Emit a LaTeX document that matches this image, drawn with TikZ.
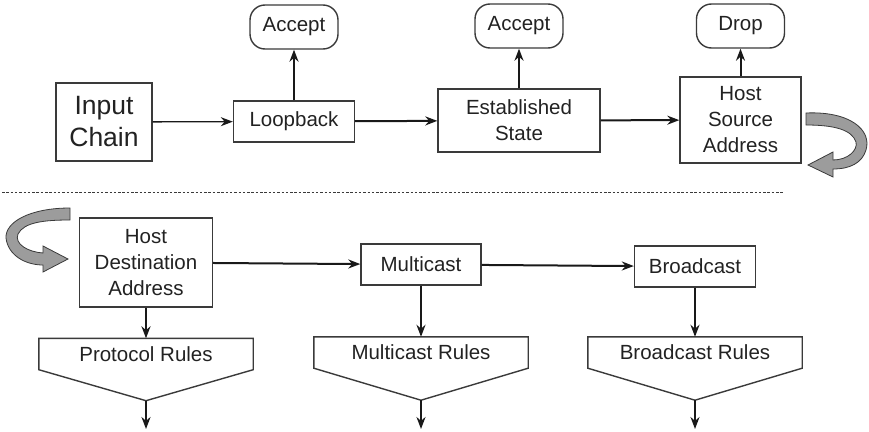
\documentclass[tikz,border=0pt]{standalone}
\usepackage{fontspec}
\setmainfont{Liberation Sans}
\usepackage{tikz}
\usetikzlibrary{arrows.meta}

\definecolor{inkgray}{HTML}{222222}
\definecolor{linegray}{HTML}{3A3A3A}
\definecolor{ribbongray}{HTML}{9C9C9C}

\tikzset{
  box/.style={draw=linegray, line width=1.4pt, fill=white, inner sep=0pt,
    align=center, text=inkgray, font=\fontsize{20.5}{26}\selectfont},
  verdict/.style={box, rounded corners=15pt, minimum width=88pt, minimum height=44pt},
  rules/.style={inner sep=0pt, minimum width=214pt, minimum height=31pt,
    text=inkgray, font=\fontsize{20.5}{26}\selectfont},
  flow/.style={->, line width=2pt, draw=black!90},
  ribbon/.style={fill=ribbongray, draw=linegray, line width=0.8pt},
}

\begin{document}
\begin{tikzpicture}[x=1pt, y=-1pt, >={Stealth[length=12pt,width=9pt]}]
  \useasboundingbox (0,0) rectangle (869,431);

  % Top row.
  \node[box, minimum width=96pt, minimum height=78pt, font=\fontsize{26.5}{32}\selectfont] (input) at (104,122) {Input\\Chain};
  \node[box, minimum width=121pt, minimum height=41pt] (loop) at (294,121.5) {Loopback};
  \node[box, minimum width=162pt, minimum height=63pt] (estab) at (519,120.5) {Established\\State};
  \node[box, minimum width=121pt, minimum height=86pt] (hsrc) at (740.5,120) {Host\\Source\\Address};

  % Verdicts.
  \node[verdict] (acceptA) at (294,27) {Accept};
  \node[verdict] (acceptB) at (519,26) {Accept};
  \node[verdict] (drop) at (740.5,26) {Drop};

  % Top arrows.
  \draw[flow, line width=1.3pt] (input) -- (loop);
  \draw[flow] (loop) -- (estab);
  \draw[flow] (estab) -- (hsrc);
  \draw[flow] (loop) -- (acceptA);
  \draw[flow] (estab) -- (acceptB);
  \draw[flow] (hsrc) -- (drop);

  % Separator.
  \draw[linegray, line width=0.8pt, dash pattern=on 2.5pt off 1.8pt] (2,192) -- (783,192);

  % Bottom row.
  \node[box, minimum width=133pt, minimum height=89pt] (hdst) at (146,262.5) {Host\\Destination\\Address};
  \node[box, minimum width=120pt, minimum height=41pt] (mcast) at (421,264.5) {Multicast};
  \node[box, minimum width=121pt, minimum height=41pt] (bcast) at (695,266.5) {Broadcast};

  \draw[flow] (hdst) -- (mcast);
  \draw[flow] (mcast) -- (bcast);

  % Rule boxes.
  \node[rules] (prot) at (146,354) {Protocol Rules};
  \node[rules] (mrules) at (421,352.5) {Multicast Rules};
  \node[rules] (brules) at (695,352.5) {Broadcast Rules};
  \draw[linegray, line width=1.4pt] (prot.north west) -- (prot.north east) -- (prot.south east)
    -- ([yshift=-31pt]prot.south) coordinate (protTip) -- (prot.south west) -- cycle;
  \draw[linegray, line width=1.4pt] (mrules.north west) -- (mrules.north east) -- (mrules.south east)
    -- ([yshift=-32pt]mrules.south) coordinate (mrulesTip) -- (mrules.south west) -- cycle;
  \draw[linegray, line width=1.4pt] (brules.north west) -- (brules.north east) -- (brules.south east)
    -- ([yshift=-32pt]brules.south) coordinate (brulesTip) -- (brules.south west) -- cycle;

  \draw[flow] (hdst) -- (prot.north);
  \draw[flow] (mcast) -- (mrules.north);
  \draw[flow] (bcast) -- (brules.north);

  % Rule exits.
  \coordinate (protOut) at (146,429);
  \coordinate (mrulesOut) at (421,429);
  \coordinate (brulesOut) at (695,429);
  \draw[flow] (protTip) -- (protOut);
  \draw[flow] (mrulesTip) -- (mrulesOut);
  \draw[flow] (brulesTip) -- (brulesOut);

  % Curved ribbon arrows.
  \filldraw[ribbon] (806,113) .. controls (850,111) and (872,130) .. (866,150)
    .. controls (862,163) and (850,169) .. (833,169)
    -- (833,177) -- (808,165) -- (833,152) -- (833,160)
    .. controls (848,160) and (858,150) .. (856,142)
    .. controls (852,130) and (835,125) .. (806,125) -- cycle;
  \filldraw[ribbon] (70,208) .. controls (30,208) and (5,222) .. (6,238)
    .. controls (8,255) and (25,265) .. (43,265)
    -- (43,272) -- (68,259) -- (43,246) -- (43,253)
    .. controls (28,252) and (14,244) .. (18,234)
    .. controls (24,222) and (45,220) .. (70,220) -- cycle;

\end{tikzpicture}
\end{document}
